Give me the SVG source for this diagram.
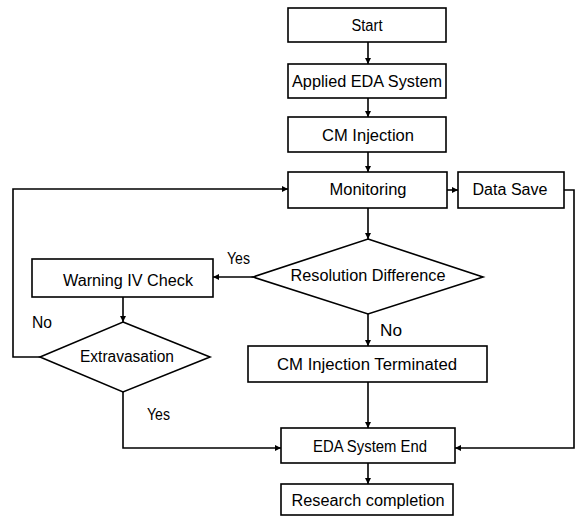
<svg xmlns="http://www.w3.org/2000/svg" width="577" height="520" viewBox="0 0 577 520">
<defs>
<style>
.box{fill:#fff;stroke:#000;stroke-width:1.6}
.t{font-family:"Liberation Sans",Arial,sans-serif;font-size:16px;fill:#000;text-anchor:middle}
.lbl{font-family:"Liberation Sans",Arial,sans-serif;font-size:16px;fill:#000}
.c{fill:none;stroke:#000;stroke-width:1.6}
</style>
<marker id="ah" viewBox="0 0 10 10" refX="10" refY="5" markerWidth="6" markerHeight="6" markerUnits="userSpaceOnUse" orient="auto">
<path d="M0,0 L10,5 L0,10 z" fill="#000"/>
</marker>
</defs>
<rect width="577" height="520" fill="#fff"/>
<g id="connectors">
<line class="c" x1="368" y1="42" x2="368" y2="64" marker-end="url(#ah)"/>
<line class="c" x1="368" y1="98" x2="368" y2="117" marker-end="url(#ah)"/>
<line class="c" x1="368" y1="152" x2="368" y2="172" marker-end="url(#ah)"/>
<line class="c" x1="447" y1="190" x2="458" y2="190" marker-end="url(#ah)"/>
<line class="c" x1="368" y1="208" x2="368" y2="239" marker-end="url(#ah)"/>
<line class="c" x1="253" y1="277" x2="213" y2="277" marker-end="url(#ah)"/>
<line class="c" x1="368" y1="314" x2="368" y2="346" marker-end="url(#ah)"/>
<line class="c" x1="123" y1="297" x2="123" y2="322" marker-end="url(#ah)"/>
<polyline class="c" points="40,357 13,357 13,189 288,189" marker-end="url(#ah)"/>
<polyline class="c" points="123,392 123,448 281,448" marker-end="url(#ah)"/>
<polyline class="c" points="564,190 574,190 574,448 455,448" marker-end="url(#ah)"/>
<line class="c" x1="368" y1="382" x2="368" y2="428" marker-end="url(#ah)"/>
<line class="c" x1="368" y1="463" x2="368" y2="484" marker-end="url(#ah)"/>
</g>
<g id="start"><rect class="box" x="288" y="8" width="158" height="34"/><text class="t" x="367" y="31" textLength="31" lengthAdjust="spacingAndGlyphs">Start</text></g>
<g id="applied"><rect class="box" x="288" y="64" width="158" height="34"/><text class="t" x="367" y="87" textLength="150" lengthAdjust="spacingAndGlyphs">Applied EDA System</text></g>
<g id="cminj"><rect class="box" x="288" y="117" width="158" height="35"/><text class="t" x="368" y="140.5" textLength="92" lengthAdjust="spacingAndGlyphs">CM Injection</text></g>
<g id="monitoring"><rect class="box" x="288" y="172" width="159" height="36"/><text class="t" x="368" y="195" textLength="77" lengthAdjust="spacingAndGlyphs">Monitoring</text></g>
<g id="datasave"><rect class="box" x="458" y="172" width="106" height="36"/><text class="t" x="510" y="195" textLength="75" lengthAdjust="spacingAndGlyphs">Data Save</text></g>
<g id="resolution"><polygon class="box" points="368,239 483,277 368,314 253,277"/><text class="t" x="368" y="281" textLength="155" lengthAdjust="spacingAndGlyphs">Resolution Difference</text></g>
<g id="warning"><rect class="box" x="32" y="259" width="181" height="38"/><text class="t" x="128" y="286" textLength="130" lengthAdjust="spacingAndGlyphs">Warning IV Check</text></g>
<g id="extravasation"><polygon class="box" points="123,322 210,357 123,392 40,357"/><text class="t" x="127" y="362" textLength="94" lengthAdjust="spacingAndGlyphs">Extravasation</text></g>
<g id="cmterm"><rect class="box" x="248" y="346" width="239" height="36"/><text class="t" x="367" y="369.5" textLength="180" lengthAdjust="spacingAndGlyphs">CM Injection Terminated</text></g>
<g id="edaend"><rect class="box" x="281" y="428" width="174" height="35"/><text class="t" x="370" y="451.5" textLength="114" lengthAdjust="spacingAndGlyphs">EDA System End</text></g>
<g id="research"><rect class="box" x="281" y="484" width="172" height="31"/><text class="t" x="368" y="505.5" textLength="153" lengthAdjust="spacingAndGlyphs">Research completion</text></g>
<g id="labels">
<text class="lbl" x="227" y="264" textLength="23" lengthAdjust="spacingAndGlyphs">Yes</text>
<text class="lbl" x="32" y="328" textLength="20" lengthAdjust="spacingAndGlyphs">No</text>
<text class="lbl" x="380" y="336" textLength="22" lengthAdjust="spacingAndGlyphs">No</text>
<text class="lbl" x="147" y="420" textLength="23" lengthAdjust="spacingAndGlyphs">Yes</text>
</g>
</svg>
